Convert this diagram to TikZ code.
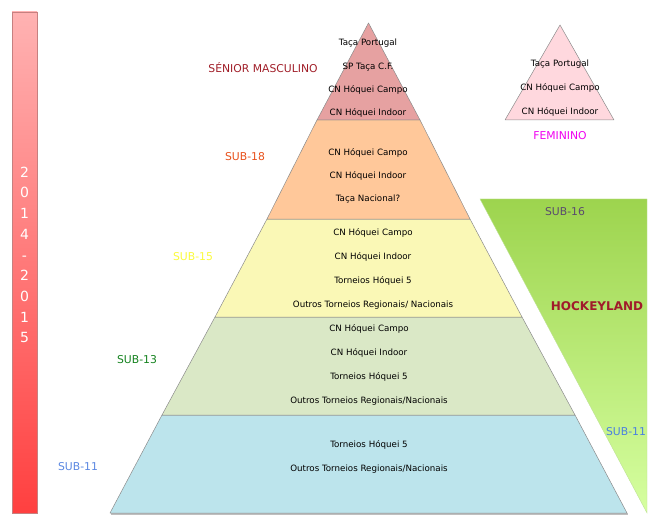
\documentclass[tikz,border=0pt]{standalone}
\usepackage{fontspec}
\setmainfont{DejaVu Sans}
\begin{document}
\begin{tikzpicture}[x=1pt,y=-1pt,
  lbl/.style={font=\fontsize{8.7}{10}\selectfont, inner sep=0pt, text=black},
  side/.style={font=\fontsize{10.8}{12}\selectfont, inner sep=0pt},
  level/.style={draw=black!45, line width=0.5pt, line join=round},
]
\useasboundingbox (0,0) rectangle (668,521);
% left bar
\shade[top color=red!30!white!100, bottom color=red!75!white, draw=red!55!black!50] (12,12) rectangle (37,513);
\node[font=\fontsize{14}{20.7}\selectfont, text=white, align=center, inner sep=0pt] (year) at (24.5,255) {2\\0\\1\\4\\-\\2\\0\\1\\5};

% pyramid levels
\coordinate (apex) at (368.5,23);
\fill[black!25] (111,515) -- (628,515) -- (628,513) -- (111,513) -- cycle;
\draw[level, fill={rgb,255:red,188;green,228;blue,236}] (110,513) -- (162,415) -- (575,415) -- (627,513) -- cycle;
\draw[level, fill={rgb,255:red,218;green,232;blue,198}] (162,415) -- (215,317) -- (522,317) -- (575,415) -- cycle;
\draw[level, fill={rgb,255:red,250;green,248;blue,182}] (215,317) -- (267,219) -- (470,219) -- (522,317) -- cycle;
\draw[level, fill={rgb,255:red,255;green,200;blue,154}] (267,219) -- (317,120) -- (420,120) -- (470,219) -- cycle;
\draw[level, fill={rgb,255:red,230;green,161;blue,161}] (317,120) -- (apex) -- (420,120) -- cycle;

% feminino triangle
\draw[level, fill={rgb,255:red,255;green,216;blue,222}] (505,120) -- (560,25) -- (614,120) -- cycle;

% hockeyland triangle
\shade[top color={rgb,255:red,157;green,212;blue,78}, bottom color={rgb,255:red,214;green,255;blue,160}, draw={rgb,255:red,190;green,225;blue,150}] (480,199) -- (647,199) -- (647,513) -- cycle;

% senior texts
\node[lbl] (s1) at (368,43) {Taça Portugal};
\node[lbl] (s2) at (368,67) {SP Taça C.F.};
\node[lbl] (s3) at (368,90) {CN Hóquei Campo};
\node[lbl] (s4) at (368,113) {CN Hóquei Indoor};
\node[side, text={rgb,255:red,160;green,30;blue,40}] (senior) at (263,68) {SÉNIOR MASCULINO};

% sub-18
\node[lbl] (o1) at (368,153) {CN Hóquei Campo};
\node[lbl] (o2) at (368,176) {CN Hóquei Indoor};
\node[lbl] (o3) at (368,199) {Taça Nacional?};
\node[side, text={rgb,255:red,232;green,80;blue,26}] (sub18) at (245,157) {SUB-18};

% sub-15
\node[lbl] (y1) at (373,233) {CN Hóquei Campo};
\node[lbl] (y2) at (373,257) {CN Hóquei Indoor};
\node[lbl] (y3) at (373,281) {Torneios Hóquei 5};
\node[lbl] (y4) at (373,305) {Outros Torneios Regionais/ Nacionais};
\node[side, text={rgb,255:red,250;green,250;blue,60}] (sub15) at (193,257) {SUB-15};

% sub-13
\node[lbl] (g1) at (369,329) {CN Hóquei Campo};
\node[lbl] (g2) at (369,353) {CN Hóquei Indoor};
\node[lbl] (g3) at (369,377) {Torneios Hóquei 5};
\node[lbl] (g4) at (369,401) {Outros Torneios Regionais/Nacionais};
\node[side, text={rgb,255:red,20;green,130;blue,30}] (sub13) at (137,360) {SUB-13};

% sub-11
\node[lbl] (b1) at (369,445) {Torneios Hóquei 5};
\node[lbl] (b2) at (369,469) {Outros Torneios Regionais/Nacionais};
\node[side, text={rgb,255:red,90;green,135;blue,225}] (sub11) at (78,467) {SUB-11};

% feminino texts
\node[lbl] (f1) at (560,64) {Taça Portugal};
\node[lbl] (f2) at (560,88) {CN Hóquei Campo};
\node[lbl] (f3) at (560,112) {CN Hóquei Indoor};
\node[side, text={rgb,255:red,240;green,0;blue,240}] (fem) at (560,136) {FEMININO};

% hockeyland texts
\node[side, text={rgb,255:red,90;green,75;blue,110}] (sub16) at (565,212) {SUB-16};
\node[font=\bfseries\fontsize{12}{14}\selectfont, inner sep=0pt, text={rgb,255:red,160;green,27;blue,43}] (hl) at (597,306) {HOCKEYLAND};
\node[side, text={rgb,255:red,74;green,128;blue,224}] (sub11b) at (626,432) {SUB-11};
\end{tikzpicture}
\end{document}
